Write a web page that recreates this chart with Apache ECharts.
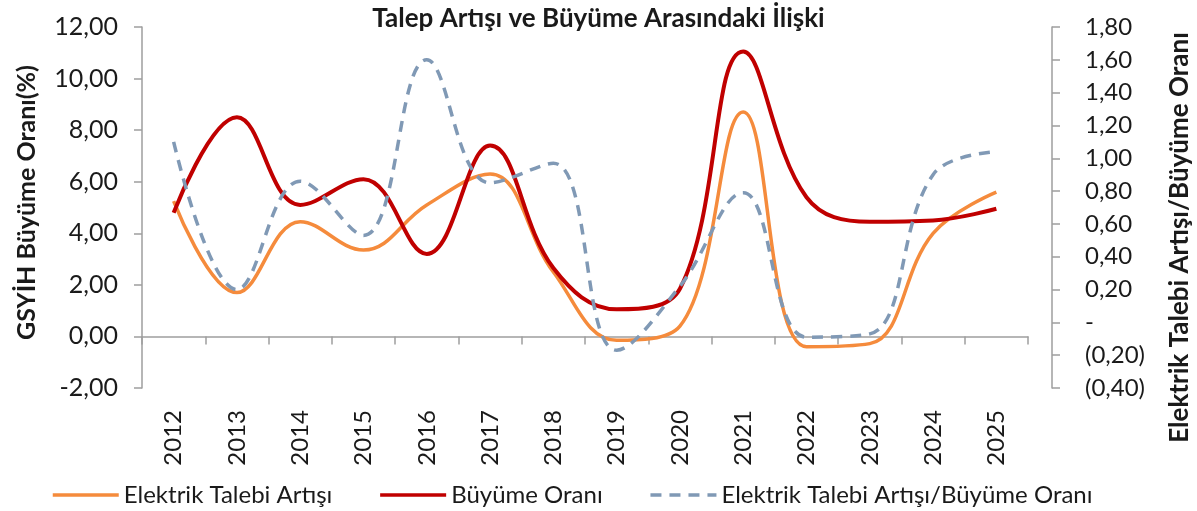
<!DOCTYPE html>
<html>
<head>
<meta charset="utf-8">
<script src="https://cdn.jsdelivr.net/npm/echarts@6/dist/echarts.min.js"></script>
<style>
html,body{margin:0;padding:0;background:#fff;}
#chart{width:1197px;height:511px;}
</style>
</head>
<body>
<div id="chart"></div>
<script>
const years = ['2012','2013','2014','2015','2016','2017','2018','2019','2020','2021','2022','2023','2024','2025'];
const electricDemand = [5.25, 1.7, 4.45, 3.35, 5.1, 6.3, 2.5, -0.15, 0.4, 8.7, -0.4, -0.28, 4.0, 5.6];
const growthRate = [4.8, 8.5, 5.1, 6.1, 3.2, 7.4, 2.65, 1.05, 1.85, 11.05, 5.4, 4.45, 4.5, 4.95];
const ratio = [1.10, 0.20, 0.86, 0.53, 1.60, 0.85, 0.97, -0.17, 0.22, 0.79, -0.09, -0.07, 0.90, 1.04];

const titleText = 'Talep Artışı ve Büyüme Arasındaki İlişki';
const leftName = 'GSYİH Büyüme Oranı(%)';
const rightName = 'Elektrik Talebi Artışı/Büyüme Oranı';
const seriesNames = ['Elektrik Talebi Artışı', 'Büyüme Oranı', 'Elektrik Talebi Artışı/Büyüme Oranı'];

const FONT = 'Lato';
const TXT = '#1a1a1a';
const AX = '#9e9e9e';

function fmtLeft(v){ return v.toFixed(2).replace('.', ','); }
function fmtRight(v){
  if (Math.abs(v) < 1e-9) return '-';
  if (v < 0) return '(' + (-v).toFixed(2).replace('.', ',') + ')';
  return v.toFixed(2).replace('.', ',');
}

const chart = echarts.init(document.getElementById('chart'));
chart.setOption({
  animation: false,
  backgroundColor: '#fff',
  title: {
    text: titleText, left: 'center', top: 1,
    textStyle: { fontFamily: FONT, fontSize: 26, fontWeight: 'bold', color: TXT }
  },
  legend: {
    left: 46, top: 478, itemWidth: 66, itemHeight: 14, itemGap: 46,
    itemStyle: { opacity: 0 },
    lineStyle: { width: 3.5 },
    textStyle: { fontFamily: FONT, fontSize: 24, color: TXT },
    data: seriesNames
  },
  grid: { left: 142, right: 169, top: 27, bottom: 123, containLabel: false, outerBoundsMode: 'none' },
  xAxis: [
    {
      type: 'category', data: years, position: 'bottom', boundaryGap: true,
      axisLine: { show: true, onZero: true, lineStyle: { color: AX, width: 1.5 } },
      axisTick: { show: true, length: 8, lineStyle: { color: AX, width: 1.5 } },
      axisLabel: { show: false }
    },
    {
      type: 'category', data: years, position: 'bottom', boundaryGap: true,
      axisLine: { show: false, onZero: false },
      axisTick: { show: false },
      axisLabel: { show: true, rotate: 90, margin: 22, fontFamily: FONT, fontSize: 24, color: TXT }
    }
  ],
  yAxis: [
    {
      type: 'value', min: -2, max: 12, interval: 2, position: 'left',
      name: leftName, nameLocation: 'middle', nameRotate: 90, nameGap: 103,
      nameTextStyle: { fontFamily: FONT, fontSize: 25, fontWeight: 'bold', color: TXT, padding: [0, 0, 0, 10] },
      axisLine: { show: true, onZero: false, lineStyle: { color: AX, width: 1.5 } },
      axisTick: { show: true, length: 8, lineStyle: { color: AX, width: 1.5 } },
      axisLabel: { margin: 24, fontFamily: FONT, fontSize: 25, color: TXT, formatter: fmtLeft },
      splitLine: { show: false }
    },
    {
      type: 'value', min: -0.4, max: 1.8, interval: 0.2, position: 'right', offset: 24,
      name: rightName, nameLocation: 'middle', nameRotate: 90, nameGap: 115,
      nameTextStyle: { fontFamily: FONT, fontSize: 26, fontWeight: 'bold', color: TXT, padding: [0, 60, 0, 0] },
      axisLine: { show: true, onZero: false, lineStyle: { color: AX, width: 1.5 } },
      axisTick: { show: true, length: 8, lineStyle: { color: AX, width: 1.5 } },
      axisLabel: { margin: 33, fontFamily: FONT, fontSize: 24, color: TXT, formatter: fmtRight },
      splitLine: { show: false }
    }
  ],
  series: [
    {
      name: seriesNames[0], type: 'line', xAxisIndex: 0, yAxisIndex: 0, data: electricDemand,
      smooth: 0.4, symbol: 'none', color: '#F58B3C',
      lineStyle: { color: '#F58B3C', width: 3.5 }
    },
    {
      name: seriesNames[1], type: 'line', xAxisIndex: 0, yAxisIndex: 0, data: growthRate,
      smooth: 0.4, symbol: 'none', color: '#C00000',
      lineStyle: { color: '#C00000', width: 4 }
    },
    {
      name: seriesNames[2], type: 'line', xAxisIndex: 0, yAxisIndex: 1, data: ratio,
      smooth: 0.4, symbol: 'none', color: '#8099B5',
      lineStyle: { color: '#8099B5', width: 3.5, type: [11, 8] }
    }
  ]
});
</script>
</body>
</html>
